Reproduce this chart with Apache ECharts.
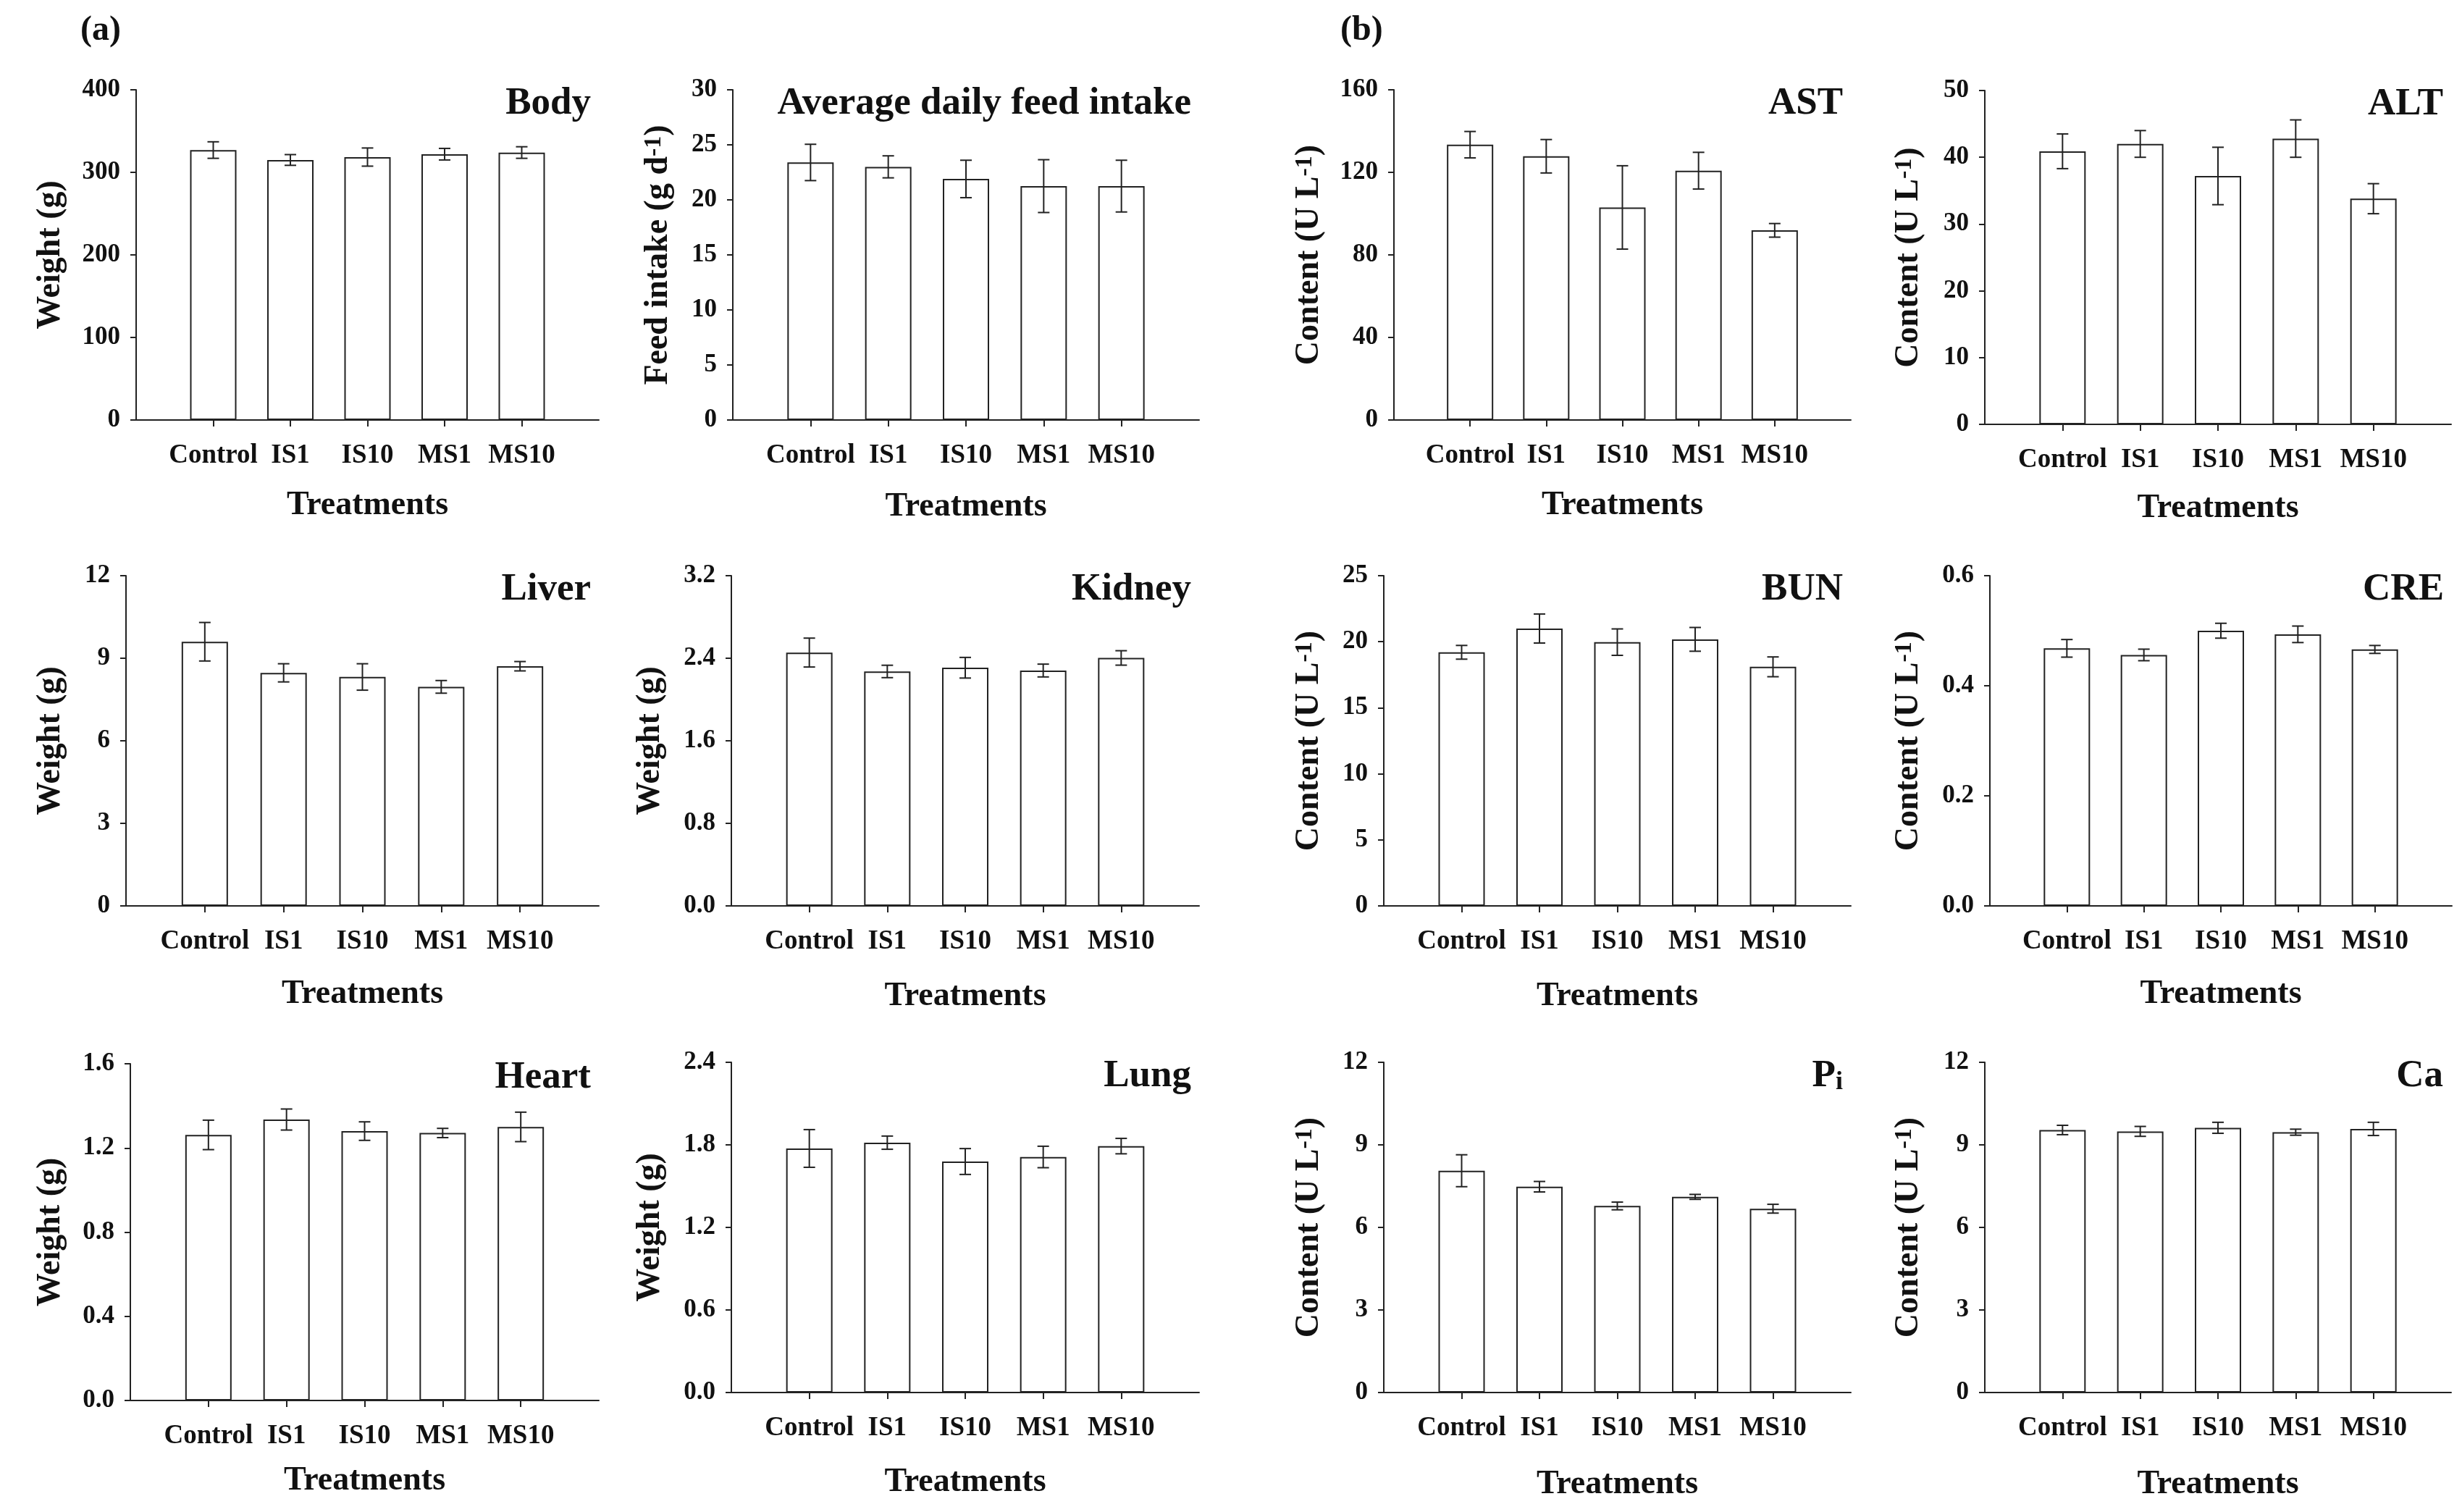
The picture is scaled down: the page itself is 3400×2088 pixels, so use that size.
<!DOCTYPE html>
<html>
<head>
<meta charset="utf-8">
<script src="https://cdn.jsdelivr.net/npm/echarts@6/dist/echarts.min.js"></script>
<style>
html,body{margin:0;padding:0;background:#fff;}
#chart{width:3400px;height:2088px;}
</style>
</head>
<body>
<div id="chart"></div>
<script>
// ---------- data ----------
const categories = ['Control', 'IS1', 'IS10', 'MS1', 'MS10'];

const bodyMean   = [327, 315, 318.5, 322, 324];
const bodySE     = [10, 6.5, 11, 7, 7];
const feedMean   = [23.4, 23.0, 21.9, 21.25, 21.25];
const feedSE     = [1.65, 1.0, 1.7, 2.4, 2.35];
const astMean    = [133.4, 127.8, 103, 120.8, 91.9];
const astSE      = [6.4, 8.1, 20.2, 8.9, 3.3];
const altMean    = [40.9, 42.0, 37.2, 42.8, 33.8];
const altSE      = [2.6, 2.0, 4.3, 2.8, 2.25];
const liverMean  = [9.6, 8.47, 8.32, 7.96, 8.71];
const liverSE    = [0.7, 0.33, 0.48, 0.23, 0.17];
const kidneyMean = [2.455, 2.272, 2.308, 2.281, 2.403];
const kidneySE   = [0.14, 0.06, 0.1, 0.062, 0.07];
const bunMean    = [19.2, 21.0, 19.97, 20.18, 18.1];
const bunSE      = [0.52, 1.1, 1.0, 0.9, 0.75];
const creMean    = [0.468, 0.456, 0.5, 0.4935, 0.466];
const creSE      = [0.016, 0.0105, 0.0135, 0.015, 0.0072];
const heartMean  = [1.262, 1.335, 1.28, 1.271, 1.3];
const heartSE    = [0.07, 0.05, 0.044, 0.022, 0.07];
const lungMean   = [1.774, 1.816, 1.679, 1.712, 1.791];
const lungSE     = [0.137, 0.048, 0.094, 0.078, 0.056];
const piMean     = [8.06, 7.48, 6.78, 7.11, 6.68];
const piSE       = [0.58, 0.19, 0.14, 0.09, 0.16];
const caMean     = [9.54, 9.49, 9.62, 9.46, 9.58];
const caSE       = [0.17, 0.18, 0.2, 0.11, 0.24];

// y-axis scales: [max, step, decimals]
const yScales = {
  body: [400, 100, 0], feed: [30, 5, 0], ast: [160, 40, 0], alt: [50, 10, 0],
  liver: [12, 3, 0], kidney: [3.2, 0.8, 1], bun: [25, 5, 0], cre: [0.6, 0.2, 1],
  heart: [1.6, 0.4, 1], lung: [2.4, 0.6, 1], pi: [12, 3, 0], ca: [12, 3, 0]
};

const seriesData = {
  body: [bodyMean, bodySE], feed: [feedMean, feedSE], ast: [astMean, astSE], alt: [altMean, altSE],
  liver: [liverMean, liverSE], kidney: [kidneyMean, kidneySE], bun: [bunMean, bunSE], cre: [creMean, creSE],
  heart: [heartMean, heartSE], lung: [lungMean, lungSE], pi: [piMean, piSE], ca: [caMean, caSE]
};

const titles = {
  body: 'Body', feed: 'Average daily feed intake', ast: 'AST', alt: 'ALT',
  liver: 'Liver', kidney: 'Kidney', bun: 'BUN', cre: 'CRE',
  heart: 'Heart', lung: 'Lung', pi: '{p|P}{i|i}', ca: 'Ca'
};
const weightName = 'Weight (g)';
const contentName = 'Content (U L{s|-1})';
const feedName = 'Feed intake (g d{s|-1})';
const yNames = {
  body: weightName, feed: feedName, ast: contentName, alt: contentName,
  liver: weightName, kidney: weightName, bun: contentName, cre: contentName,
  heart: weightName, lung: weightName, pi: contentName, ca: contentName
};
const xName = 'Treatments';

// ---------- layout (pixels) ----------
// [key, left, right, top, bottom, yNameGap, xNameGap]
const layout = [
  ['body',   188,  827, 124, 580, 95, 95],
  ['feed',  1012, 1656, 124, 580, 80, 97],
  ['ast',   1925, 2556, 124, 580, 94, 95],
  ['alt',   2741, 3385, 125, 586, 82, 93],
  ['liver',  174,  827, 795, 1251, 81, 99],
  ['kidney',1010, 1656, 795, 1251, 89, 102],
  ['bun',   1911, 2556, 795, 1251, 80, 102],
  ['cre',   2748, 3386, 795, 1251, 89, 99],
  ['heart',  180,  827, 1469, 1934, 87, 88],
  ['lung',  1010, 1656, 1467, 1923, 89, 101],
  ['pi',    1911, 2556, 1467, 1923, 80, 104],
  ['ca',    2741, 3385, 1467, 1923, 82, 104]
];

const FONT = 'Liberation Serif';
const INK = '#111';
const AXIS = '#222';

const grid = [], xAxis = [], yAxis = [], series = [], title = [];

title.push({ text: '(a)', left: 106, top: 14, textStyle: { fontFamily: FONT, fontSize: 48, fontWeight: 'bold', color: INK } });
title.push({ text: '(b)', left: 1846, top: 14, textStyle: { fontFamily: FONT, fontSize: 48, fontWeight: 'bold', color: INK } });

layout.forEach((L, i) => {
  const [key, left, right, top, bottom, yGap, xGap] = L;
  const [yMax, yStep, dec] = yScales[key];
  const [mean, se] = seriesData[key];
  grid.push({ left: left, top: top, width: right - left, height: bottom - top, containLabel: false });
  xAxis.push({
    type: 'value', gridIndex: i, min: -1, max: 5,
    name: xName, nameLocation: 'middle', nameGap: xGap,
    nameTextStyle: { fontFamily: FONT, fontSize: 46, fontWeight: 'bold', color: INK },
    axisLine: { show: true, onZero: false, lineStyle: { color: AXIS, width: 2 } },
    axisTick: { show: true, length: 9, lineStyle: { color: AXIS, width: 2 }, customValues: [0, 1, 2, 3, 4] },
    axisLabel: {
      customValues: [0, 1, 2, 3, 4], margin: 31,
      formatter: v => categories[Math.round(v)] || '',
      fontFamily: FONT, fontSize: 37, fontWeight: 'bold', color: INK
    },
    splitLine: { show: false }
  });
  yAxis.push({
    type: 'value', gridIndex: i, min: 0, max: yMax, interval: yStep,
    name: yNames[key], nameLocation: 'middle', nameGap: yGap, nameRotate: 90,
    nameTextStyle: {
      fontFamily: FONT, fontSize: 46, fontWeight: 'bold', color: INK,
      rich: { s: { fontFamily: FONT, fontSize: 34, fontWeight: 'bold', color: INK, verticalAlign: 'top' } }
    },
    axisLine: { show: true, onZero: false, lineStyle: { color: AXIS, width: 2 } },
    axisTick: { show: true, length: 8, lineStyle: { color: AXIS, width: 2 } },
    axisLabel: {
      margin: 22, formatter: v => Number(v).toFixed(dec),
      fontFamily: FONT, fontSize: 35, fontWeight: 'bold', color: INK
    },
    splitLine: { show: false }
  });
  series.push({
    type: 'bar', xAxisIndex: i, yAxisIndex: i, barWidth: 64,
    data: mean.map((v, k) => [k, v]),
    itemStyle: { color: '#fff', borderColor: AXIS, borderWidth: 2 },
    silent: true, animation: false
  });
  series.push({
    type: 'custom', xAxisIndex: i, yAxisIndex: i,
    data: mean.map((v, k) => [k, v - se[k], v + se[k]]),
    encode: { x: 0, y: [1, 2] },
    renderItem: function (params, api) {
      const x = api.value(0);
      const hi = api.coord([x, api.value(2)]);
      const lo = api.coord([x, api.value(1)]);
      const w = 8;
      const st = { stroke: AXIS, lineWidth: 2 };
      return {
        type: 'group',
        children: [
          { type: 'line', shape: { x1: hi[0], y1: hi[1], x2: lo[0], y2: lo[1] }, style: st },
          { type: 'line', shape: { x1: hi[0] - w, y1: hi[1], x2: hi[0] + w, y2: hi[1] }, style: st },
          { type: 'line', shape: { x1: lo[0] - w, y1: lo[1], x2: lo[0] + w, y2: lo[1] }, style: st }
        ]
      };
    },
    z: 5, silent: true, animation: false
  });
  title.push({
    text: titles[key],
    right: 3400 - (right - 6), top: top - 12,
    textStyle: {
      fontFamily: FONT, fontSize: 53, fontWeight: 'bold', color: INK,
      rich: {
        p: { fontFamily: FONT, fontSize: 53, fontWeight: 'bold', color: INK },
        i: { fontFamily: FONT, fontSize: 36, fontWeight: 'bold', color: INK, verticalAlign: 'bottom' }
      }
    }
  });
});

const chart = echarts.init(document.getElementById('chart'), null, { renderer: 'canvas' });
chart.setOption({
  backgroundColor: '#fff',
  animation: false,
  textStyle: { fontFamily: FONT },
  title: title,
  grid: grid,
  xAxis: xAxis,
  yAxis: yAxis,
  series: series
});
</script>
</body>
</html>
